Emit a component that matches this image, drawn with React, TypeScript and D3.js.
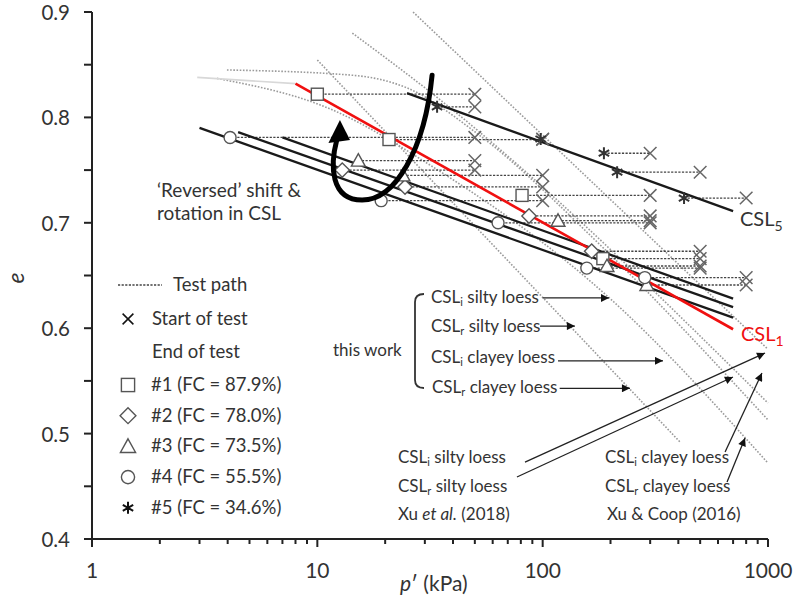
import React from 'react';
import * as d3 from 'd3';

const W = 797;
const H = 602;

// critical state lines, [p' (kPa), e]
const csl5 = [[25, 0.823], [700, 0.711]];
const cslMid = [
  [[3, 0.79], [700, 0.61]],
  [[4.45, 0.786], [700, 0.62]],
  [[7, 0.781], [700, 0.628]],
];
const csl1 = [[8, 0.832], [700, 0.599]];
const csl1Faint = [[2.93, 0.838], [8, 0.832]];

// CSLs of this work and the literature (grey dotted)
const refLines = [
  [[26.6, 0.9], [1000, 0.58]],
  [[14.3, 0.88], [34, 0.819], [1000, 0.529]],
  [[10, 0.8545], [407, 0.492]],
  [[3.59, 0.837], [11.7, 0.807], [32.6, 0.753], [197, 0.629], [1000, 0.472]],
  [[3.97, 0.845], [14.3, 0.84], [25, 0.828], [51, 0.785], [180, 0.679], [1000, 0.513]],
];

// test paths: [p' at start, p' at end, e]
const test1 = [[50, 10, 0.822], [100, 20.8, 0.779], [300, 81, 0.726], [500, 185, 0.666]];
const test2 = [[50, 12.9, 0.75], [100, 24.5, 0.734], [300, 87, 0.7065], [500, 165, 0.673]];
const test3 = [[50, 15.2, 0.759], [100, 24, 0.745], [300, 117, 0.702], [500, 193, 0.659], [800, 290, 0.641]];
const test4 = [[50, 4.1, 0.781], [100, 19.2, 0.721], [300, 63.4, 0.7], [500, 157, 0.657], [800, 284, 0.648]];
const test5 = [[50, 34, 0.81], [100, 98, 0.7795], [300, 187, 0.766], [500, 214, 0.748], [800, 424, 0.7235]];

const legendLabels = ['#1 (FC = 87.9%)', '#2 (FC = 78.0%)', '#3 (FC = 73.5%)', '#4 (FC = 55.5%)', '#5 (FC = 34.6%)'];
const yTicks = [0.4, 0.45, 0.5, 0.55, 0.6, 0.65, 0.7, 0.75, 0.8, 0.85, 0.9];
const xMajor = [1, 10, 100, 1000];

// 'reversed' shift arrow, in data units
const turnArrow = [[32.3, 0.84], [30, 0.769], [22.1, 0.7216], [15.8, 0.7216], [11.4, 0.7216], [11.4, 0.755], [12.2, 0.7786]];
const turnHead = [[12.6, 0.7975], [11.2, 0.7757], [13.96, 0.7786]];

// label arrows: [p tail, e tail, p tip, e tip]
const labelArrows = [
  [100, 0.6287, 197, 0.6287],
  [97.3, 0.602, 139, 0.602],
  [117, 0.569, 342, 0.569],
  [119, 0.543, 244, 0.543],
  [83.5, 0.473, 970, 0.5765],
  [76.9, 0.4588, 699, 0.5537],
  [645, 0.4825, 940, 0.5575],
  [658, 0.454, 791, 0.4958],
];

const FONT = 'Lato, "Liberation Sans", sans-serif';
const TXT = '#333';

const x = d3.scaleLog().domain([1, 1000]).range([92, 768]);
const y = d3.scaleLinear().domain([0.4, 0.9]).range([539, 12]);
const line = d3.line<number[]>().x(d => x(d[0])).y(d => y(d[1]));
const curve = d3.line<number[]>().x(d => x(d[0])).y(d => y(d[1])).curve(d3.curveMonotoneX);

function Marker({ kind, cx, cy, s = 1, color = '#555', fill = 'white' }: any) {
  const r = 6 * s;
  const sw = 1.4;
  if (kind === 0) return <rect x={cx - r} y={cy - r} width={2 * r} height={2 * r} fill={fill} stroke={color} strokeWidth={sw} />;
  if (kind === 1) {
    const q = r * 1.2;
    return <path d={`M${cx},${cy - q}L${cx + q},${cy}L${cx},${cy + q}L${cx - q},${cy}Z`} fill={fill} stroke={color} strokeWidth={sw} />;
  }
  if (kind === 2) {
    const q = r * 1.15;
    return <path d={`M${cx},${cy - q}L${cx + q},${cy + q * 0.8}L${cx - q},${cy + q * 0.8}Z`} fill={fill} stroke={color} strokeWidth={sw} />;
  }
  if (kind === 3) return <circle cx={cx} cy={cy} r={r} fill={fill} stroke={color} strokeWidth={sw} />;
  if (kind === 4) {
    const spokes = [0, 60, 120].map(a => {
      const t = (a * Math.PI) / 180 + Math.PI / 2;
      return `M${cx - r * Math.cos(t)},${cy - r * Math.sin(t)}L${cx + r * Math.cos(t)},${cy + r * Math.sin(t)}`;
    });
    return <path d={spokes.join('')} stroke={color} strokeWidth={2} fill="none" />;
  }
  // cross
  return <path d={`M${cx - r},${cy - r}L${cx + r},${cy + r}M${cx - r},${cy + r}L${cx + r},${cy - r}`} stroke={color} strokeWidth={1.5} fill="none" />;
}

function Csl({ tx, ty, sub, color }: any) {
  return (
    <text x={tx} y={ty} fontSize={20} fill={color} fontFamily={FONT}>
      CSL<tspan fontSize={14} dy={5}>{sub}</tspan>
    </text>
  );
}

function SubLabel({ tx, ty, sub, rest }: any) {
  return (
    <text x={tx} y={ty} fontSize={17} fill={TXT} fontFamily={FONT}>
      CSL<tspan fontSize={11} dy={3}>{sub}</tspan>
      <tspan dy={-3}>{' ' + rest}</tspan>
    </text>
  );
}

export default function App() {
  const tests = [test1, test2, test3, test4, test5];
  const minor: number[] = [];
  for (const d of [1, 10, 100]) for (let k = 2; k < 10; k++) minor.push(d * k);

  const tailSeg = turnArrow.map(d => [x(d[0]), y(d[1])]);
  const turnPath = `M${tailSeg[0][0]},${tailSeg[0][1]}C${tailSeg[1][0]},${tailSeg[1][1]} ${tailSeg[2][0]},${tailSeg[2][1]} ${tailSeg[3][0]},${tailSeg[3][1]}C${tailSeg[4][0]},${tailSeg[4][1]} ${tailSeg[5][0]},${tailSeg[5][1]} ${tailSeg[6][0]},${tailSeg[6][1]}`;
  const head = turnHead.map(d => `${x(d[0])},${y(d[1])}`).join(' ');

  return (
    <svg width={W} height={H} style={{ position: 'absolute', left: 0, top: 0, background: 'white' }}>
      <defs>
        <marker id="ah" viewBox="0 0 10 10" refX="10" refY="5" markerWidth="10" markerHeight="8" markerUnits="userSpaceOnUse" orient="auto">
          <path d="M0,0L10,5L0,10Z" fill="#111" />
        </marker>
      </defs>

      {/* grey dotted CSLs */}
      {refLines.map((l, i) => (
        <path key={'r' + i} d={(l.length > 2 ? curve : line)(l) || ''} fill="none" stroke="#9a9a9a" strokeWidth={1.6} strokeDasharray="1.6,1.6" />
      ))}
      <path d={line(csl1Faint) || ''} stroke="#d8d8d8" strokeWidth={1.6} fill="none" />

      {/* test paths */}
      {tests.map((t, i) =>
        t.map((d, j) => (
          <line key={`p${i}-${j}`} x1={x(d[1])} x2={x(d[0])} y1={y(d[2])} y2={y(d[2])} stroke="#444" strokeWidth={1.3} strokeDasharray="2.2,1.4" />
        ))
      )}

      {/* CSLs */}
      <path d={line(csl5) || ''} stroke="#1a1a1a" strokeWidth={2.3} fill="none" />
      {cslMid.map((l, i) => (
        <path key={'m' + i} d={line(l) || ''} stroke="#1a1a1a" strokeWidth={2.3} fill="none" />
      ))}
      <path d={line(csl1) || ''} stroke="#f01010" strokeWidth={2.6} fill="none" />

      {/* start markers */}
      {tests.map((t, i) =>
        t.map((d, j) => <Marker key={`x${i}-${j}`} kind={5} cx={x(d[0])} cy={y(d[2])} color="#666" s={1.05} />)
      )}
      {/* end markers */}
      {tests.map((t, i) =>
        t.map((d, j) => <Marker key={`e${i}-${j}`} kind={i} cx={x(d[1])} cy={y(d[2])} color={i === 4 ? '#333' : '#555'} />)
      )}

      {/* reversed-shift arrow */}
      <path d={turnPath} stroke="#000" strokeWidth={5} fill="none" strokeLinecap="round" />
      <polygon points={head} fill="#000" />

      {/* axes */}
      <line x1={92} x2={92} y1={12} y2={539} stroke="#222" strokeWidth={2} />
      <line x1={92} x2={768} y1={539} y2={539} stroke="#222" strokeWidth={2} />
      {yTicks.map(t => (
        <line key={'yt' + t} x1={84} x2={92} y1={y(t)} y2={y(t)} stroke="#222" strokeWidth={2} />
      ))}
      {yTicks.filter((_, i) => i % 2 === 0).map(t => (
        <text key={'yl' + t} x={70} y={y(t) + 8} textAnchor="end" fontSize={20.5} fill={TXT} fontFamily={FONT}>
          {d3.format('.1f')(t)}
        </text>
      ))}
      {xMajor.map(t => (
        <line key={'xt' + t} x1={x(t)} x2={x(t)} y1={539} y2={547} stroke="#222" strokeWidth={2} />
      ))}
      {minor.map(t => (
        <line key={'xm' + t} x1={x(t)} x2={x(t)} y1={539} y2={544} stroke="#222" strokeWidth={2} />
      ))}
      {xMajor.map(t => (
        <text key={'xl' + t} x={x(t)} y={578} textAnchor="middle" fontSize={21} fill={TXT} fontFamily={FONT}>
          {t}
        </text>
      ))}
      <text x={400} y={591} fontSize={21} fill={TXT} fontFamily={FONT}>
        <tspan fontStyle="italic">p</tspan>′ (kPa)
      </text>
      <text transform="translate(24,278) rotate(-90)" textAnchor="middle" fontSize={23} fontStyle="italic" fill={TXT} fontFamily={FONT}>
        e
      </text>

      {/* CSL labels */}
      <Csl tx={740} ty={226} sub="5" color="#333" />
      <Csl tx={741} ty={341} sub="1" color="#f01010" />

      <text x={157} y={197} fontSize={19} fill={TXT} fontFamily={FONT}>‘Reversed’ shift &amp;</text>
      <text x={157} y={220} fontSize={19} fill={TXT} fontFamily={FONT}>rotation in CSL</text>

      {/* legend */}
      <line x1={118} x2={162} y1={285} y2={285} stroke="#444" strokeWidth={1.3} strokeDasharray="2.2,1.4" />
      <text x={173} y={291} fontSize={18.5} fill={TXT} fontFamily={FONT}>Test path</text>
      <Marker kind={5} cx={128} cy={319} color="#111" s={0.9} />
      <text x={152} y={325} fontSize={18.5} fill={TXT} fontFamily={FONT}>Start of test</text>
      <text x={152} y={358} fontSize={18.5} fill={TXT} fontFamily={FONT}>End of test</text>
      {legendLabels.map((l, i) => (
        <g key={'lg' + i}>
          <Marker kind={i} cx={128} cy={385 + i * 30.7} color={i === 4 ? '#111' : '#555'} s={i === 4 ? 1 : 1.1} />
          <text x={151} y={391 + i * 30.7} fontSize={18.5} fill={TXT} fontFamily={FONT}>{l}</text>
        </g>
      ))}

      {/* this work */}
      <text x={333} y={356} fontSize={17} fill={TXT} fontFamily={FONT}>this work</text>
      <path d="M424,294 Q415,294 415,302 L415,380 Q415,388 424,388" stroke="#333" strokeWidth={1.8} fill="none" />
      <SubLabel tx={431} ty={303} sub="i" rest="silty loess" />
      <SubLabel tx={431} ty={332} sub="r" rest="silty loess" />
      <SubLabel tx={431} ty={363} sub="i" rest="clayey loess" />
      <SubLabel tx={432} ty={393} sub="r" rest="clayey loess" />

      {/* literature */}
      <SubLabel tx={398} ty={463} sub="i" rest="silty loess" />
      <SubLabel tx={398} ty={492} sub="r" rest="silty loess" />
      <text x={398} y={520} fontSize={17} fill={TXT} fontFamily={FONT}>
        Xu <tspan fontStyle="italic">et al.</tspan> (2018)
      </text>
      <SubLabel tx={605} ty={463} sub="i" rest="clayey loess" />
      <SubLabel tx={605} ty={492} sub="r" rest="clayey loess" />
      <text x={607} y={520} fontSize={17} fill={TXT} fontFamily={FONT}>Xu &amp; Coop (2016)</text>

      {labelArrows.map((a, i) => (
        <line key={'la' + i} x1={x(a[0])} y1={y(a[1])} x2={x(a[2])} y2={y(a[3])} stroke="#222" strokeWidth={1.3} markerEnd="url(#ah)" />
      ))}
    </svg>
  );
}
